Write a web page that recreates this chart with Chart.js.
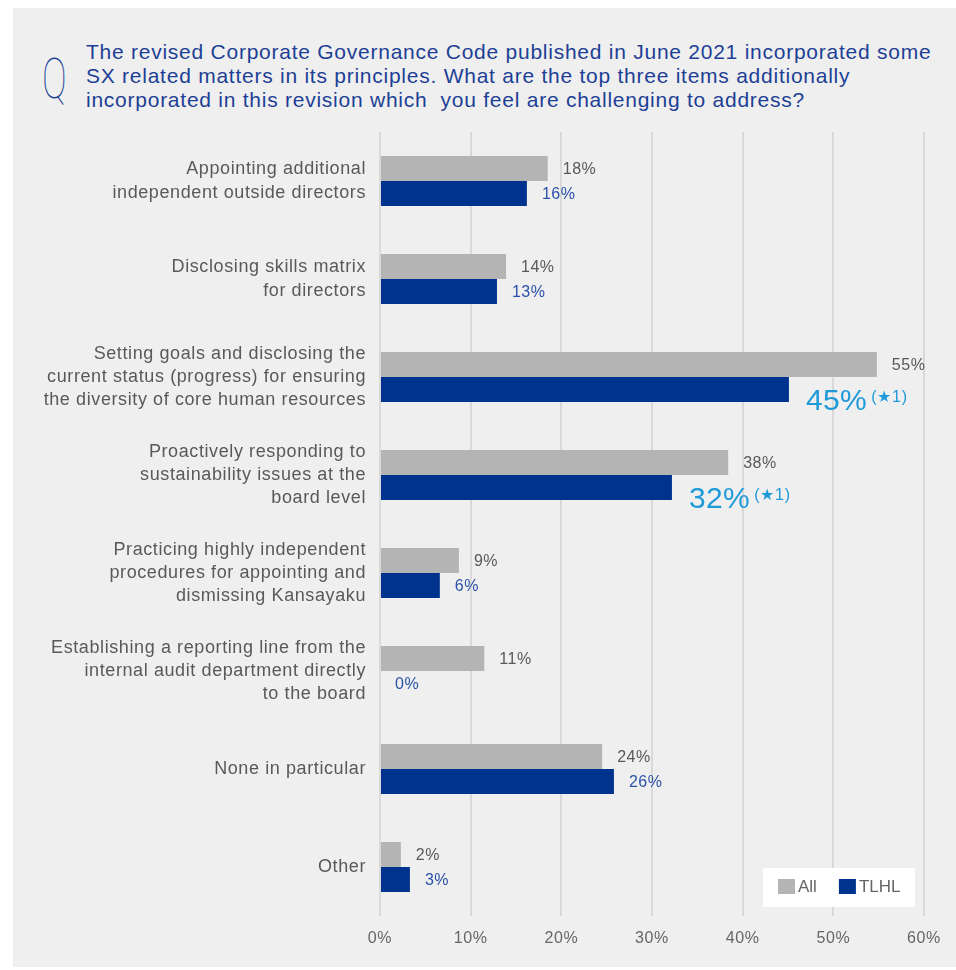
<!DOCTYPE html>
<html>
<head>
<meta charset="utf-8">
<script src="https://cdn.jsdelivr.net/npm/chart.js@4.4.1/dist/chart.umd.min.js"></script>
<style>
  html, body { margin: 0; padding: 0; background: #ffffff; }
  #wrap { position: relative; width: 956px; height: 970px; overflow: hidden; }
  #panel { position: absolute; left: 13px; top: 8px; width: 943px; height: 959px; background: #efefef; }
  #q { position: absolute; left: 42px; top: 49px; font-family: Roboto, "DejaVu Sans", sans-serif; font-weight: 100;
       font-size: 56px; line-height: 60px; color: #1d3f95; transform: scaleX(0.66); transform-origin: left top; }
  #title { position: absolute; left: 86px; top: 40px; width: 870px; font-family: "Liberation Sans", Arial, sans-serif;
           font-size: 21px; line-height: 24px; letter-spacing: 0.75px; color: #1d3f95; white-space: nowrap; }
  #chart { position: absolute; left: 0; top: 0; }
</style>
</head>
<body>
<div id="wrap">
  <div id="panel"></div>
  <div id="q">Q</div>
  <div id="title">The revised Corporate Governance Code published in June 2021 incorporated some<br>SX related matters in its principles. What are the top three items additionally<br>incorporated in this revision which&nbsp; you feel are challenging to address?</div>
  <canvas id="chart" width="956" height="970"></canvas>
</div>
<script>
// categories (multi-line labels)
const categories = [
    ['Appointing additional', 'independent outside directors'],
    ['Disclosing skills matrix', 'for directors'],
    ['Setting goals and disclosing the', 'current status (progress) for ensuring', 'the diversity of core human resources'],
    ['Proactively responding to', 'sustainability issues at the', 'board level'],
    ['Practicing highly independent', 'procedures for appointing and', 'dismissing Kansayaku'],
    ['Establishing a reporting line from the', 'internal audit department directly', 'to the board'],
    'None in particular',
    'Other'
];

const seriesNames = ['All', 'TLHL'];
const allValues  = [18.5, 13.9, 54.8, 38.4, 8.7, 11.5, 24.5, 2.3];
const tlhlValues = [16.2, 12.9, 45.1, 32.2, 6.6, 0, 25.8, 3.3];
const allLabels  = ['18%', '14%', '55%', '38%', '9%', '11%', '24%', '2%'];
const tlhlLabels = ['16%', '13%', '45%', '32%', '6%', '0%', '26%', '3%'];
const tlhlNotes  = ['', '', '(★1)', '(★1)', '', '', '', ''];
const xTicks = [0, 10, 20, 30, 40, 50, 60];

const FONT = '"Liberation Sans", Arial, sans-serif';

// the original type is a bit wider; space the canvas text slightly
const spacing = {
    id: 'spacing',
    beforeDraw(chart) { chart.ctx.letterSpacing = '0.6px'; }
};

// value labels next to bars
const valueLabels = {
    id: 'valueLabels',
    afterDatasetsDraw(chart) {
        const ctx = chart.ctx;
        ctx.save();
        ctx.letterSpacing = '0.5px';
        ctx.textBaseline = 'middle';
        ctx.textAlign = 'left';
        chart.getDatasetMeta(0).data.forEach((bar, i) => {
            ctx.font = '16px ' + FONT;
            ctx.fillStyle = '#595959';
            ctx.fillText(allLabels[i], bar.x + 15, bar.y + 1);
        });
        chart.getDatasetMeta(1).data.forEach((bar, i) => {
            if (tlhlNotes[i]) {
                ctx.letterSpacing = '0.4px';
                ctx.font = '30px ' + FONT;
                ctx.fillStyle = '#1f9ad9';
                const x = bar.x + 17;
                ctx.fillText(tlhlLabels[i], x, bar.y + 12);
                const w = ctx.measureText(tlhlLabels[i]).width;
                ctx.font = '16px ' + FONT;
                ctx.letterSpacing = '0.8px';
                ctx.fillText(tlhlNotes[i], x + w + 4, bar.y + 8);
                ctx.letterSpacing = '0.5px';
            } else {
                ctx.font = '16px ' + FONT;
                ctx.fillStyle = '#2a52a8';
                ctx.fillText(tlhlLabels[i], bar.x + 15, bar.y + 1);
            }
        });
        ctx.restore();
    }
};

// boxed legend in the lower right corner
const boxLegend = {
    id: 'boxLegend',
    afterDraw(chart) {
        const ctx = chart.ctx;
        ctx.save();
        ctx.letterSpacing = '0px';
        ctx.fillStyle = '#ffffff';
        ctx.fillRect(763, 868, 152, 39);
        ctx.font = '17px ' + FONT;
        ctx.textBaseline = 'middle';
        ctx.textAlign = 'left';
        let x = 778;
        chart.data.datasets.forEach(ds => {
            ctx.fillStyle = ds.backgroundColor;
            ctx.fillRect(x, 879, 17, 15);
            ctx.fillStyle = '#666666';
            ctx.fillText(ds.label, x + 20, 887);
            x += 20 + ctx.measureText(ds.label).width + 22;
        });
        ctx.restore();
    }
};

new Chart(document.getElementById('chart'), {
    type: 'bar',
    data: {
        labels: categories,
        datasets: [
            { label: seriesNames[0], data: allValues, backgroundColor: '#b4b4b4', borderWidth: 0 },
            { label: seriesNames[1], data: tlhlValues, backgroundColor: '#00338d', borderWidth: 0 }
        ]
    },
    options: {
        indexAxis: 'y',
        responsive: false,
        animation: false,
        devicePixelRatio: 1,
        layout: { padding: { left: 0, right: 32, top: 132, bottom: 0 } },
        datasets: { bar: { barPercentage: 1, categoryPercentage: 0.51 } },
        scales: {
            x: {
                min: 0, max: 60,
                afterFit: s => { s.height = 54; },
                afterBuildTicks: s => { s.ticks = xTicks.map(v => ({ value: v })); },
                grid: { color: '#d9d9d9', lineWidth: 2, drawTicks: false },
                border: { display: false },
                ticks: { color: '#666666', font: { size: 16, family: FONT }, padding: 13, callback: v => v + '%' }
            },
            y: {
                afterFit: s => { s.width = 380; },
                grid: { display: false },
                border: { display: false },
                ticks: { color: '#595959', font: { size: 18, family: FONT, lineHeight: 1.3 }, padding: 6, autoSkip: false }
            }
        },
        plugins: {
            legend: { display: false },
            tooltip: { enabled: false }
        }
    },
    plugins: [spacing, valueLabels, boxLegend]
});
</script>
</body>
</html>
